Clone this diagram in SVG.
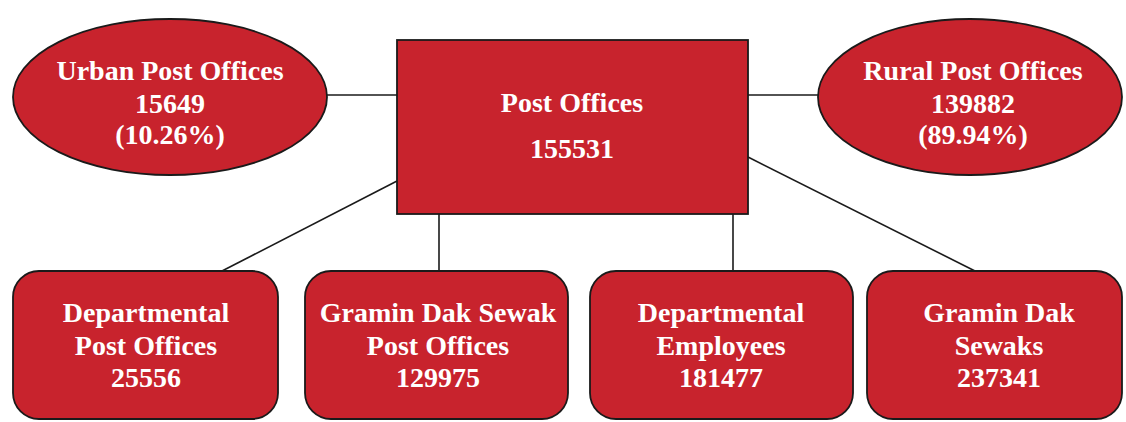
<svg xmlns="http://www.w3.org/2000/svg" width="1126" height="422" viewBox="0 0 1126 422">
<style>
.shape{fill:#C8232D;stroke:#1a1a1a;stroke-width:1.8}
.lbl{font-family:"Liberation Serif","Times New Roman",serif;font-weight:bold;font-size:28px;fill:#FFFFFF;text-anchor:middle}
.conn line{stroke:#1a1a1a;stroke-width:1.6}
</style>
<rect width="1126" height="422" fill="#FFFFFF"/>
<g class="conn" id="connectors">
<line x1="327" y1="95" x2="397" y2="95"/>
<line x1="748" y1="95" x2="819" y2="95"/>
<line x1="397" y1="181" x2="222" y2="271"/>
<line x1="439" y1="214" x2="439" y2="271"/>
<line x1="733" y1="214" x2="733" y2="271"/>
<line x1="748" y1="157" x2="975" y2="271"/>
</g>
<g id="urban">
<ellipse class="shape" cx="170" cy="97" rx="157" ry="78"/>
<text class="lbl" x="170" y="80">Urban Post Offices</text>
<text class="lbl" x="170" y="113">15649</text>
<text class="lbl" x="170" y="144">(10.26%)</text>
</g>
<g id="post-offices">
<rect class="shape" x="397" y="40" width="351" height="174"/>
<text class="lbl" x="572" y="112">Post Offices</text>
<text class="lbl" x="572" y="158">155531</text>
</g>
<g id="rural">
<ellipse class="shape" cx="970" cy="97" rx="152" ry="78"/>
<text class="lbl" x="973" y="80">Rural Post Offices</text>
<text class="lbl" x="973" y="113">139882</text>
<text class="lbl" x="973" y="144">(89.94%)</text>
</g>
<g id="departmental-po">
<rect class="shape" x="13" y="271" width="265" height="148" rx="26" ry="26"/>
<text class="lbl" x="146" y="322">Departmental</text>
<text class="lbl" x="146" y="355">Post Offices</text>
<text class="lbl" x="146" y="387">25556</text>
</g>
<g id="gds-po">
<rect class="shape" x="305" y="271" width="263" height="148" rx="26" ry="26"/>
<text class="lbl" x="438" y="322">Gramin Dak Sewak</text>
<text class="lbl" x="438" y="355">Post Offices</text>
<text class="lbl" x="438" y="387">129975</text>
</g>
<g id="departmental-emp">
<rect class="shape" x="590" y="271" width="263" height="148" rx="26" ry="26"/>
<text class="lbl" x="721" y="322">Departmental</text>
<text class="lbl" x="721" y="355">Employees</text>
<text class="lbl" x="721" y="387">181477</text>
</g>
<g id="gds">
<rect class="shape" x="867" y="271" width="255" height="148" rx="26" ry="26"/>
<text class="lbl" x="999" y="322">Gramin Dak</text>
<text class="lbl" x="999" y="355">Sewaks</text>
<text class="lbl" x="999" y="387">237341</text>
</g>
</svg>
